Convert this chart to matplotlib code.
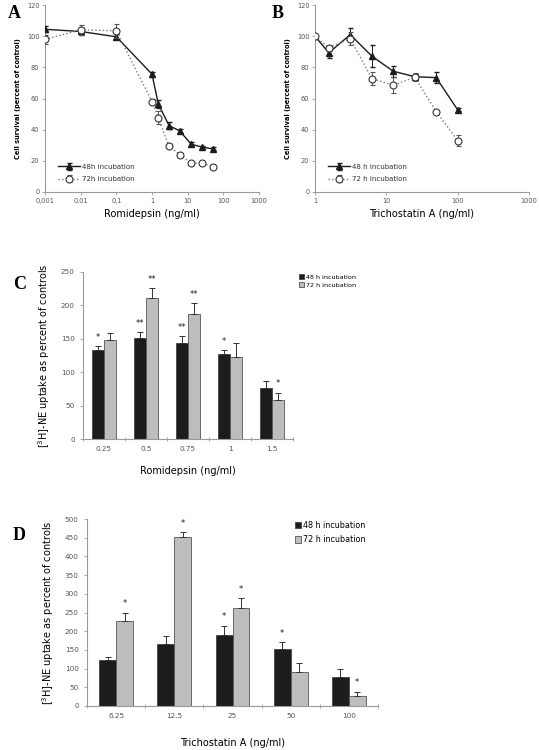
import matplotlib
matplotlib.use("Agg")
import matplotlib.pyplot as plt
from matplotlib.ticker import FixedLocator, FixedFormatter, NullLocator
import numpy as np

# ---- data ----
# A: romidepsin survival curves
romi_conc = [0.001, 0.01, 0.1, 1, 1.5, 3, 6, 12.5, 25, 50]
romi_48 = [104.4, 103, 99.6, 75.6, 56.6, 42.6, 39.2, 30.7, 28.8, 27.7]
romi_48_err = [2, 2, 1.5, 1.5, 2.5, 2, 1.5, 1.2, 1, 1]
romi_72 = [97.9, 104, 103.5, 58, 47.7, 29.4, 24, 18.4, 18.6, 16.3]
romi_72_err = [3, 3, 4.5, 2, 4, 1.2, 1, 1, 1, 1]
romi_xticks = [0.001, 0.01, 0.1, 1, 10, 100, 1000]
romi_xticklabels = ["0,001", "0,01", "0,1", "1", "10", "100", "1000"]

# B: trichostatin A survival curves
tsa_conc = [1, 1.56, 3.125, 6.25, 12.5, 25, 50, 100]
tsa_48 = [100, 89.3, 101, 87.2, 77.5, 74, 73.4, 52.7]
tsa_48_err = [1, 3, 4, 7, 3.5, 2, 3.5, 1]
tsa_72 = [100, 92.5, 98.5, 72.8, 68.5, 73.7, 51.6, 33]
tsa_72_err = [1, 2, 4, 4, 5, 2.5, 1, 3.5]
tsa_xticks = [1, 10, 100, 1000]
tsa_xticklabels = ["1", "10", "100", "1000"]

# C: NE uptake, romidepsin
c_labels = ["0.25", "0.5", "0.75", "1", "1.5"]
c_48 = [132.5, 151, 143.5, 126.5, 77]
c_48_err = [6, 9, 11, 6.5, 10.5]
c_72 = [147.5, 210.5, 187, 123.5, 58]
c_72_err = [11, 15.5, 16, 20, 11.5]
c_48_sig = ["*", "**", "**", "*", ""]
c_72_sig = ["", "**", "**", "", "*"]

# D: NE uptake, trichostatin A
d_labels = ["6.25", "12.5", "25", "50", "100"]
d_48 = [122, 165, 190, 153.6, 78.6]
d_48_err = [9, 21.6, 25, 17, 20]
d_72 = [228.6, 452.7, 261.6, 92, 26.8]
d_72_err = [20.5, 11.6, 26, 23, 10.7]
d_48_sig = ["", "", "*", "*", ""]
d_72_sig = ["*", "*", "*", "", "*"]

# ---- style ----
dark = "#1c1c1c"
light = "#bdbdbd"
spine_col = "#9a9a9a"
tick_col = "#555555"
W, H = 539, 750

fig = plt.figure(figsize=(W / 100, H / 100), dpi=100)


def px_axes(x0, y0, x1, y1):
    # axes placed by pixel box (top-left origin)
    return fig.add_axes([x0 / W, 1 - y1 / H, (x1 - x0) / W, (y1 - y0) / H])


def clean(ax):
    for s in ["top", "right"]:
        ax.spines[s].set_visible(False)
    for s in ["left", "bottom"]:
        ax.spines[s].set_color(spine_col)
        ax.spines[s].set_linewidth(0.8)


def curve_panel(ax, x, y48, e48, y72, e72, xticks, xlabels, xlabel, leg48, leg72):
    clean(ax)
    ax.set_xscale("log")
    ax.errorbar(x, y48, yerr=e48, color=dark, lw=1.0, marker="^", ms=4.5,
                capsize=1.8, elinewidth=0.7, label=leg48, zorder=3)
    ax.errorbar(x, y72, yerr=e72, color="#7a7a7a", lw=1.0, ls=":", marker="o",
                ms=5, mfc="white", mec="#333333", mew=0.8, ecolor="#555555",
                capsize=1.8, elinewidth=0.7, label=leg72, zorder=4)
    ax.set_xlim(xticks[0], xticks[-1])
    ax.set_ylim(0, 120)
    ax.set_yticks(range(0, 121, 20))
    ax.xaxis.set_major_locator(FixedLocator(xticks))
    ax.xaxis.set_major_formatter(FixedFormatter(xlabels))
    ax.xaxis.set_minor_locator(NullLocator())
    ax.tick_params(labelsize=4.8, colors=spine_col, labelcolor=tick_col, length=2, width=0.6, pad=2)
    ax.set_xlabel(xlabel, fontsize=7, family="DejaVu Sans", labelpad=4)
    ax.set_ylabel("Cell survival (percent of control)", fontsize=4.8, fontweight="bold", labelpad=4)
    leg = ax.legend(loc="lower left", bbox_to_anchor=(0.03, 0.02), frameon=False,
                    fontsize=5, handlelength=3.2, labelspacing=0.9, handletextpad=0.3)
    for t in leg.get_texts():
        t.set_color("#333333")


def bar_panel(ax, labels, y48, e48, y72, e72, s48, s72, ymax, ystep, xlabel, bw, fs_tick, fs_star):
    clean(ax)
    x = np.arange(len(labels))
    ax.bar(x - bw / 2, y48, bw, color=dark, edgecolor="#444444", lw=0.6, label="48 h incubation", zorder=2)
    ax.bar(x + bw / 2, y72, bw, color=light, edgecolor="#555555", lw=0.6, label="72 h incubation", zorder=2)
    ax.errorbar(x - bw / 2, y48, yerr=[np.zeros(len(x)), e48], fmt="none", ecolor="#333333",
                elinewidth=0.7, capsize=2.2, capthick=0.7, zorder=3)
    ax.errorbar(x + bw / 2, y72, yerr=[np.zeros(len(x)), e72], fmt="none", ecolor="#333333",
                elinewidth=0.7, capsize=2.2, capthick=0.7, zorder=3)
    pad = ymax * 0.025
    for i in range(len(x)):
        if s48[i]:
            ax.text(x[i] - bw / 2, y48[i] + e48[i] + pad, s48[i], ha="center", va="bottom",
                    fontsize=fs_star, color="#222222")
        if s72[i]:
            ax.text(x[i] + bw / 2, y72[i] + e72[i] + pad, s72[i], ha="center", va="bottom",
                    fontsize=fs_star, color="#222222")
    ax.set_xlim(-0.5, len(x) - 0.5)
    ax.set_ylim(0, ymax)
    ax.set_yticks(np.arange(0, ymax + 1, ystep))
    ax.set_xticks(x)
    ax.set_xticklabels(labels)
    ax.set_xticks(np.arange(-0.5, len(x)), minor=True)
    ax.tick_params(axis="x", which="major", length=0, pad=5)
    ax.tick_params(axis="x", which="minor", length=2.5, width=0.6, colors=spine_col, direction="inout")
    ax.tick_params(axis="y", length=2.5, width=0.6, colors=spine_col)
    ax.tick_params(labelsize=fs_tick, labelcolor=tick_col)
    ax.set_ylabel("[$^3$H]-NE uptake as percent of controls", fontsize=7, labelpad=6)
    ax.set_xlabel(xlabel, fontsize=7)


# ---- panel A ----
axA = px_axes(45, 5, 259, 192)
curve_panel(axA, romi_conc, romi_48, romi_48_err, romi_72, romi_72_err,
            romi_xticks, romi_xticklabels, "Romidepsin (ng/ml)", "48h incubation", "72h incubation")

# ---- panel B ----
axB = px_axes(315, 5, 529, 192)
curve_panel(axB, tsa_conc, tsa_48, tsa_48_err, tsa_72, tsa_72_err,
            tsa_xticks, tsa_xticklabels, "Trichostatin A (ng/ml)", "48 h incubation", "72 h incubation")

# ---- panel C ----
axC = px_axes(83, 272, 293, 439)
bar_panel(axC, c_labels, c_48, c_48_err, c_72, c_72_err, c_48_sig, c_72_sig,
          250, 50, "Romidepsin (ng/ml)", 0.28, 5.2, 6)
axC.xaxis.set_label_coords(0.5, -0.16)
legC = axC.legend(loc="upper left", bbox_to_anchor=(1.0, 1.02), frameon=False, fontsize=4.6,
                  handlelength=0.8, handleheight=0.8, handletextpad=0.3, labelspacing=0.3)

# ---- panel D ----
axD = px_axes(87, 519, 378, 706)
bar_panel(axD, d_labels, d_48, d_48_err, d_72, d_72_err, d_48_sig, d_72_sig,
          500, 50, "Trichostatin A (ng/ml)", 0.29, 5.2, 6)
axD.xaxis.set_label_coords(0.5, -0.17)
legD = axD.legend(loc="upper left", bbox_to_anchor=(0.69, 1.03), frameon=False, fontsize=5.8,
                  handlelength=0.8, handleheight=0.8, handletextpad=0.2, labelspacing=0.7)

# ---- panel letters ----
for lab, (px, py) in zip("ABCD", [(8, 14), (272, 14), (13, 284), (13, 535)]):
    fig.text(px / W, 1 - py / H, lab, fontsize=13, fontweight="bold",
             family="Liberation Serif", va="center", ha="left")

fig.savefig("out.png", dpi=100, facecolor="white")
